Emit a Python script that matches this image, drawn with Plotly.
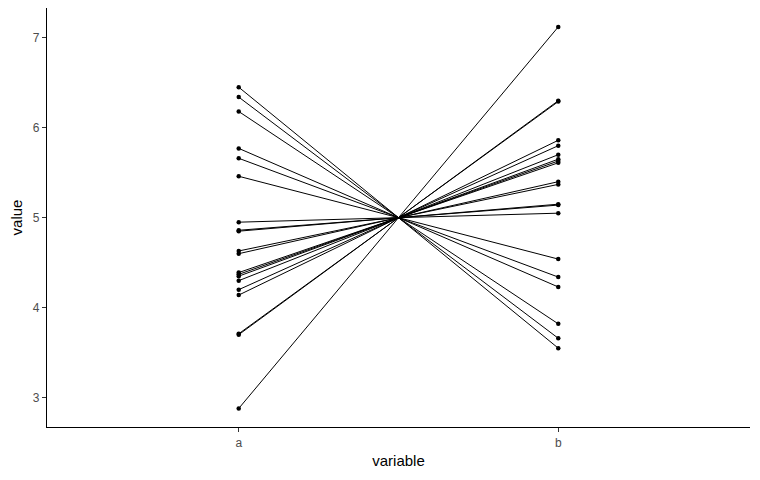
import plotly.graph_objects as go

categories = ["a", "b"]
a_values = [6.45, 6.34, 6.18, 5.77, 5.66, 5.46, 4.95, 4.86, 4.85, 4.63,
            4.60, 4.39, 4.37, 4.35, 4.30, 4.20, 4.14, 3.71, 3.70, 2.88]
b_values = [3.55, 3.66, 3.82, 4.23, 4.34, 4.54, 5.05, 5.14, 5.15, 5.37,
            5.40, 5.61, 5.63, 5.65, 5.70, 5.80, 5.86, 6.29, 6.30, 7.12]
y_ticks = [3, 4, 5, 6, 7]

xs, ys = [], []
for va, vb in zip(a_values, b_values):
    xs += [1, 2, None]
    ys += [va, vb, None]

fig = go.Figure()
fig.add_trace(go.Scatter(
    x=xs, y=ys, mode="lines+markers",
    line=dict(color="black", width=1),
    marker=dict(color="black", size=4.5),
    showlegend=False, hoverinfo="skip",
))

fig.update_layout(
    width=744, height=464,
    margin=dict(l=39, r=2, t=0, b=45),
    paper_bgcolor="white", plot_bgcolor="white",
    font=dict(family="Liberation Sans, Arial, sans-serif"),
)
fig.update_xaxes(
    range=[0.4, 2.6], tickvals=[1, 2], ticktext=categories,
    showgrid=False, zeroline=False, automargin=False,
    showline=True, linecolor="black", linewidth=1.3,
    ticks="outside", ticklen=4, tickcolor="#333333", tickwidth=1,
    tickfont=dict(size=12, color="#4d4d4d"),
    title=dict(text="variable", font=dict(size=15, color="black"), standoff=6),
)
fig.update_yaxes(
    range=[2.674, 7.33], tickvals=y_ticks,
    showgrid=False, zeroline=False, automargin=False,
    showline=True, linecolor="black", linewidth=1.3,
    ticks="outside", ticklen=4, tickcolor="#333333", tickwidth=1,
    tickfont=dict(size=12, color="#4d4d4d"),
    title=dict(text="value", font=dict(size=15, color="black"), standoff=8),
)

fig.write_html("out.html")
